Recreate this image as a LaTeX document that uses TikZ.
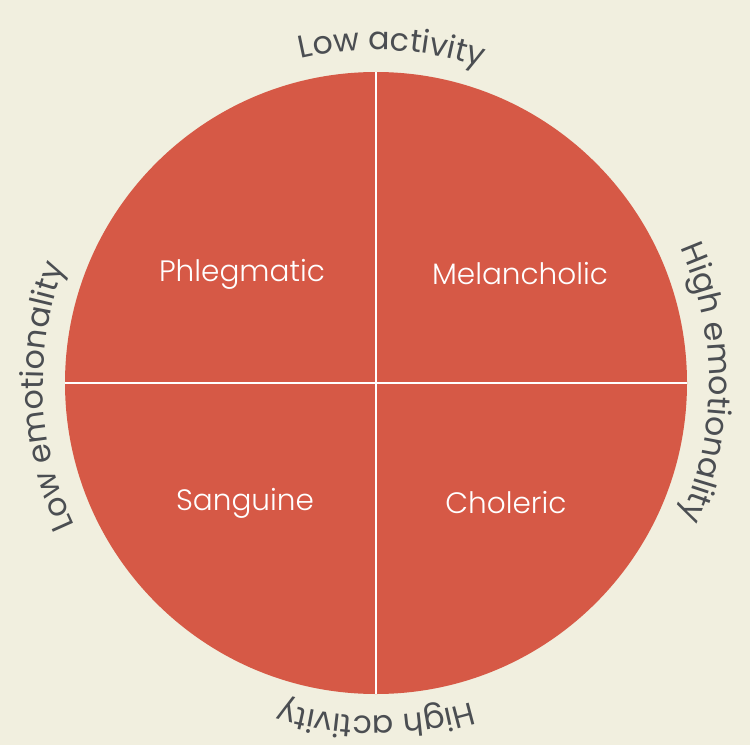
\documentclass[tikz,border=0pt]{standalone}
\usepackage{fontspec}
\setmainfont{Poppins}
\newfontfamily\quadfont{Poppins Light}
\usetikzlibrary{decorations.text}
\definecolor{paper}{HTML}{F1EFDF}
\definecolor{temper}{HTML}{D65946}
\definecolor{axisgrey}{HTML}{4B4E52}
\newcommand{\sidefont}{\fontsize{18}{18}\selectfont\color{axisgrey}}
\begin{document}
\begin{tikzpicture}[
x=0.02cm,y=0.02cm,
quad/.style={%
text=white,
font=\quadfont\fontsize{16.8}{17}\selectfont
},
sidelabel/.style={%
decorate,
decoration={text along path, text align=center,
text format delimiters={|}{|}, text={|\sidefont|#1}}
}
]
%% Background
\fill[paper](0,0)rectangle(750,745);
\useasboundingbox(0,0)rectangle(750,745);
%% Circle and axes
\coordinate (c) at (376,362);
\fill[temper](c)circle[radius=311];
\coordinate (top) at (376,673);
\coordinate (bot) at (376,51);
\coordinate (lft) at (65,362);
\coordinate (rgt) at (687,362);
\draw[white,line width=1.7pt](top)--(bot);
\draw[white,line width=1.7pt](lft)--(rgt);
%% Temperaments
\node[quad]at(242,471)(phleg){Phlegmatic};
\node[quad]at(520,471)(melan){Melancholic};
\node[quad]at(245,242)(sang){Sanguine};
\node[quad]at(506,242)(chol){Choleric};
%% Axis labels
\path[sidelabel={Low activity}](c)++(132.3:333)arc[start angle=132.3,end angle=42.3,radius=333];
\path[sidelabel={High emotionality}](c)++(45:333)arc[start angle=45,end angle=-45,radius=333];
\path[sidelabel={High activity}](c)++(-45:333)arc[start angle=-45,end angle=-135,radius=333];
\path[sidelabel={Low emotionality}](c)++(-132.6:333)arc[start angle=-132.6,end angle=-222.6,radius=333];
\end{tikzpicture}
\end{document}
